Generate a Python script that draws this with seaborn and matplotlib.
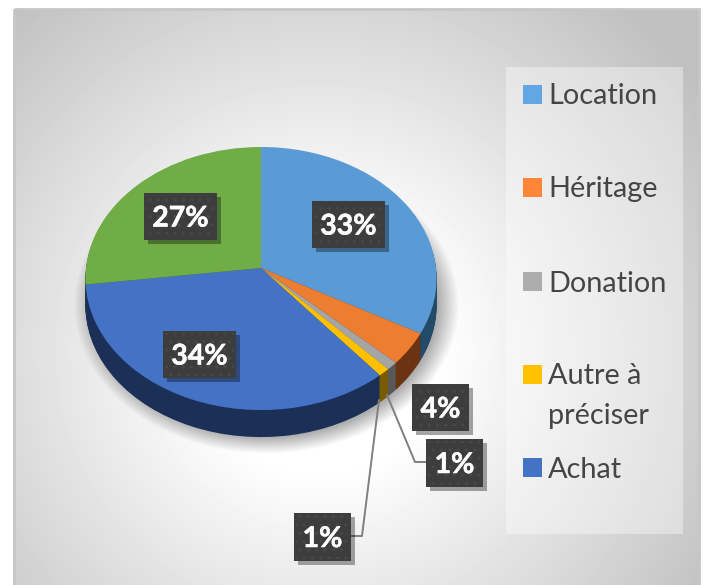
import numpy as np
import matplotlib
matplotlib.use("Agg")
import matplotlib.pyplot as plt
import matplotlib.patheffects as pe
from matplotlib.patches import Rectangle
from matplotlib.transforms import Transform
import seaborn as sns

# la part verte n'a pas d'entree dans la legende d'origine
categories = ["Location", "Héritage", "Donation", "Autre à\npréciser", "Achat"]
values = [33, 4, 1, 1, 34, 27]
top_colors = ["#5B9BD5", "#ED7D31", "#A5A5A5", "#FFC000", "#4472C4", "#70AD47"]
side_colors = ["#234A66", "#6B3311", "#585858", "#7A5C00", "#1B2F57", "#375623"]
legend_colors = ["#62A6E4", "#FF8636", "#ADADAD", "#FFC000", "#4472C4"]

W, H = 705, 585
CX, APEX_Y, RX, DEPTH = 261, 268, 175, 27
PERSP, RY = 0.08, 130.7


class Perspective(Transform):
    # cercle unite -> disque vu en perspective, en pixels
    input_dims = output_dims = 2

    def __init__(self, drop):
        super().__init__()
        self.drop = drop

    def transform_non_affine(self, pts):
        pts = np.asarray(pts)
        w = 1 + PERSP * pts[:, 1]
        return np.column_stack([CX + RX * pts[:, 0] / w,
                                APEX_Y + self.drop - RY * pts[:, 1] / w])


sns.set_theme(style="white")
plt.rcParams["font.family"] = ["Lato", "DejaVu Sans"]
plt.rcParams["hatch.linewidth"] = 1.0

fig = plt.figure(figsize=(W / 100, H / 100), dpi=100)
fig.patch.set_facecolor("white")

# fond degrade + ombre, en pixels
bg = fig.add_axes([0, 0, 1, 1])
xx, yy = np.meshgrid(np.arange(14, 700), np.arange(9, 585))
dist = np.hypot(xx - 320, yy - 350)
shade = 1 - 0.25 * np.clip((dist - 120) / 345, 0, 1)
bg.imshow(shade, extent=(14, 700, 585, 9), cmap="gray", vmin=0, vmax=1, aspect="auto", zorder=0)
bg.add_patch(Rectangle((14, 9), 685, 590, fill=False, ec="#c6c6c6", lw=2, zorder=1))

xs, ys = np.meshgrid(np.arange(60, 520), np.arange(110, 470))
e = np.hypot((xs - 266) / 182, (ys - 305) / 140)
rgba = np.zeros(xs.shape + (4,))
rgba[..., 3] = 0.32 * np.clip((1.06 - e) / 0.12, 0, 1)
bg.imshow(rgba, extent=(60, 520, 470, 110), aspect="auto", zorder=2)
bg.set_xlim(0, W)
bg.set_ylim(H, 0)
bg.axis("off")

# camembert : tranches empilees pour l'epaisseur, la derniere est le dessus
ax = fig.add_axes([0, 0, 1, 1])
ax.patch.set_alpha(0)
for d in range(DEPTH, -1, -1):
    colors = top_colors if d == 0 else side_colors
    wedges, _ = ax.pie(values, colors=colors, startangle=90, counterclock=False,
                       wedgeprops=dict(linewidth=0))
    for w in wedges:
        w.set_transform(Perspective(d) + ax.transData)
ax.set_aspect("auto")
ax.set_xlim(0, W)
ax.set_ylim(H, 0)
ax.axis("off")

# etiquettes et legende, en pixels
over = fig.add_axes([0, 0, 1, 1])
over.patch.set_alpha(0)
over.set_xlim(0, W)
over.set_ylim(H, 0)
over.axis("off")

over.plot([387, 415, 426], [395, 462, 462], color="#7f7f7f", lw=1.4, zorder=3)
over.plot([379, 362, 351], [400, 536, 536], color="#7f7f7f", lw=1.4, zorder=3)

boxes = [(312, 201, 73, 47), (412, 384, 57, 47), (426, 439, 57, 48),
         (294, 513, 57, 48), (163, 331, 73, 47), (144, 193, 73, 47)]
for val, (x, y, w, h) in zip(values, boxes):
    over.add_patch(Rectangle((x, y), w, h, fc="#3d3d3d", ec="none", zorder=4, path_effects=[
        pe.SimplePatchShadow(offset=(3, -3), shadow_rgbFace="#000000", alpha=0.35), pe.Normal()]))
    over.add_patch(Rectangle((x + 2, y + 2), w - 4, h - 4, fc="none", ec="#484848", lw=0,
                             hatch="..", zorder=4.5))
    over.text(x + w / 2, y + h / 2 + 2, f"{val}%", color="white", fontsize=20.5, fontweight="bold",
              ha="center", va="center", zorder=5,
              path_effects=[pe.withStroke(linewidth=0.4, foreground="white")])

over.add_patch(Rectangle((506, 67), 177, 467, fc="white", alpha=0.38, ec="none", zorder=3))
legend_y = [94, 187, 281, 374, 467]
for name, col, y in zip(categories, legend_colors, legend_y):
    over.add_patch(Rectangle((523, y - 9), 19, 19, fc=col, ec="none", zorder=4))
    if "\n" in name:
        over.text(548, y - 11, name, color="#454545", fontsize=20.8, va="top", ha="left",
                  linespacing=1.66, zorder=5)
    else:
        over.text(548, y, name, color="#454545", fontsize=20.8, va="center_baseline",
                  ha="left", zorder=5)

fig.savefig("out.png", dpi=100)
